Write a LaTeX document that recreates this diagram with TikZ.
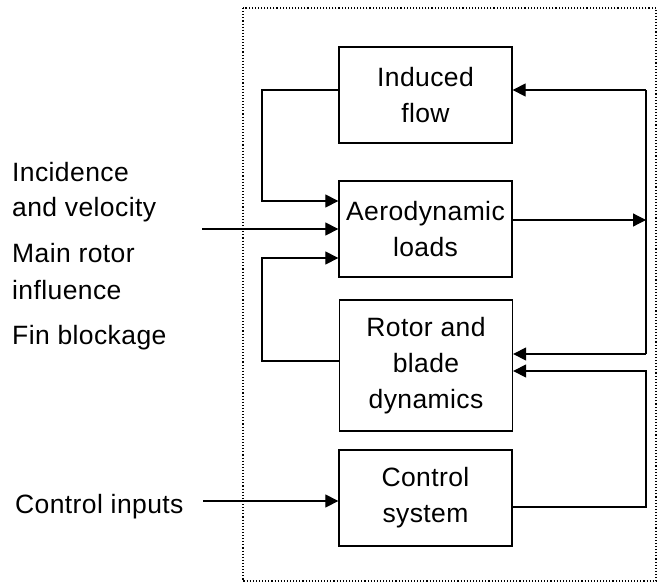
\documentclass[tikz,border=0pt]{standalone}
\usepackage{fontspec}
\setmainfont{Liberation Sans}[LetterSpace=1.5]
\usetikzlibrary{arrows.meta}
\begin{document}
\begin{tikzpicture}[x=1pt,y=-1pt,
  blk/.style={draw,line width=1.3pt,minimum width=173pt,align=center,inner sep=0pt,
     font=\fontsize{26.5}{36}\selectfont},
  lbl/.style={anchor=base west,inner sep=0pt,font=\fontsize{26.5}{36}\selectfont},
  conn/.style={line width=1.2pt,-{Triangle[length=13pt,width=13pt]}},
  plain/.style={line width=1.2pt}]
\useasboundingbox (0,0) rectangle (657,584);
\draw[dotted,line width=1.1pt] (243,8) rectangle (656,581);
% boxes
\node[blk,minimum height=96pt] (ind) at (425.5,95) {Induced\\flow};
\node[blk,minimum height=96pt] (aer) at (425.5,229) {Aerodynamic\\loads};
\node[blk,minimum height=131pt] (rot) at (426,365.5) {Rotor and\\blade\\dynamics};
\node[blk,minimum height=96pt] (ctl) at (425.5,498) {Control\\system};
% labels
\node[lbl] (l1) at (12,181) {Incidence};
\node[lbl] (l2) at (12,216) {and velocity};
\node[lbl] (l3) at (12,262) {Main rotor};
\node[lbl] (l4) at (12,299) {influence};
\node[lbl] (l5) at (12,344) {Fin blockage};
\node[lbl] (l6) at (15,513) {Control inputs};
% coordinates
\coordinate (inA) at (202,229);
\coordinate (inC) at (203,501);
\coordinate (rj) at (646,220);
% left loops
\draw[conn] (ind.west |- 0,90) -| (262,150) |- (aer.west |- 0,201);
\draw[conn] (inA) -- (aer.west |- inA);
\draw[conn] (rot.west |- 0,361) -| (262,300) |- (aer.west |- 0,258);
\draw[conn] (inC) -- (ctl.west |- inC);
% right loops
\draw[conn] (aer.east |- rj) -- (rj);
\draw[plain] (646,90) -- (646,354);
\draw[conn] (646,90) -- (ind.east |- 0,90);
\draw[conn] (646,354) -- (rot.east |- 0,354);
\draw[conn] (ctl.east |- 0,507) -| (646,440) |- (rot.east |- 0,371);
\end{tikzpicture}
\end{document}
